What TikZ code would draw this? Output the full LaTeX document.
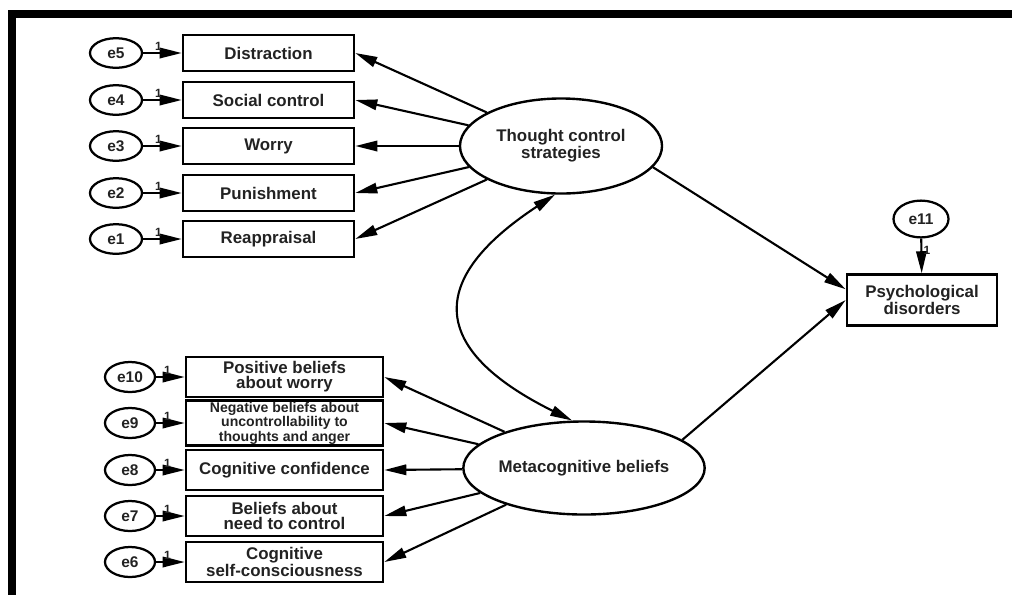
\documentclass[tikz,border=0pt]{standalone}
\usepackage{fontspec}
\setmainfont{Liberation Sans}
\definecolor{inkLine}{HTML}{000000}
\definecolor{inkText}{HTML}{222222}
\usetikzlibrary{positioning, shapes.geometric, arrows.meta}
\tikzset{
  errNode/.style={ellipse, draw=inkLine, line width=1.6pt, inner sep=0pt,
    minimum width=1.3cm, minimum height=0.74cm,
    font=\bfseries\fontsize{11}{12}\selectfont, text=inkText},
  obsBox/.style={rectangle, draw=inkLine, line width=1.8pt, inner sep=1pt, align=center,
    font=\bfseries\fontsize{12}{10.8}\selectfont, text=inkText},
  obsText/.style={},
  obsSmall/.style={font=\bfseries\fontsize{10}{8.6}\selectfont},
  latentNode/.style={ellipse, draw=inkLine, line width=1.7pt, inner sep=0pt, align=center,
    font=\bfseries\fontsize{12}{10.5}\selectfont, text=inkText},
  pathArrow/.style={draw=inkLine, line width=1.5pt, -{Triangle[length=0.55cm,width=0.26cm]}},
  oneLbl/.style={font=\bfseries\fontsize{8.5}{8.5}\selectfont, inner sep=0.8pt, text=inkText}
}
\begin{document}
\begin{tikzpicture}[x=0.025cm, y=-0.025cm]
  \useasboundingbox (0,0) rectangle (1012,595);
  \fill[inkLine] (8,10) rectangle (1012,18);
  \fill[inkLine] (8,10) rectangle (16,595);

  \node[latentNode, minimum width=5.05cm, minimum height=2.375cm] (tcs) at (561,146) {Thought control\\strategies};
  \node[latentNode, minimum width=5.1cm, minimum height=2.325cm] (mcb) at (584,468) {Metacognitive beliefs};
  \node[obsBox, minimum width=3.75cm, minimum height=1.275cm] (psy) at (922,300) {Psychological\\disorders};
  \node[errNode, minimum width=1.375cm, minimum height=0.92cm] (e11) at (921,219) {e11};

  \foreach \idx/\yy/\txt in {5/53/Distraction, 4/100/Social control, 3/146/Worry,
      2/193/Punishment, 1/239/Reappraisal} {
    \node[errNode] (e\idx) at (116,\yy) {e\idx};
    \node[obsBox, minimum width=4.275cm, minimum height=0.9cm] (ind\idx) at (268.5,\yy) {\txt};
    \draw[pathArrow] (e\idx) -- node[oneLbl, above, pos=0.4] (one\idx) {1} (ind\idx);
    \draw[pathArrow] (tcs) -- (ind\idx.east);
  }

  \foreach \idx/\yy/\sty/\txt in {10/377/obsText/{Positive beliefs\\about worry},
      9/423/obsSmall/{Negative beliefs about\\uncontrollability to\\thoughts and anger},
      8/470/obsText/{Cognitive confidence}, 7/516/obsText/{Beliefs about\\need to control},
      6/562/obsText/{Cognitive\\self-consciousness}} {
    \node[errNode, minimum width=1.25cm, minimum height=0.75cm] (e\idx) at (130,\yy) {e\idx};
    \node[obsBox, \sty, minimum width=4.925cm, minimum height=1cm] (ind\idx) at (284.5,\yy) {\txt};
    \draw[pathArrow] (e\idx) -- node[oneLbl, above, pos=0.4] (one\idx) {1} (ind\idx);
    \draw[pathArrow] (mcb) -- (ind\idx.east);
  }

  \draw[pathArrow] (e11) -- node[oneLbl, right, pos=0.33] (one11) {1} (psy);
  \draw[pathArrow] (tcs.-13) -- (psy.172);
  \draw[pathArrow] (mcb.16) -- (psy.west);
  \draw[draw=inkLine, line width=1.5pt, {Triangle[length=0.55cm,width=0.26cm]}-{Triangle[length=0.55cm,width=0.26cm]}]
    (tcs.-97) .. controls (425,280) and (430,350) .. (mcb.104);
\end{tikzpicture}
\end{document}
